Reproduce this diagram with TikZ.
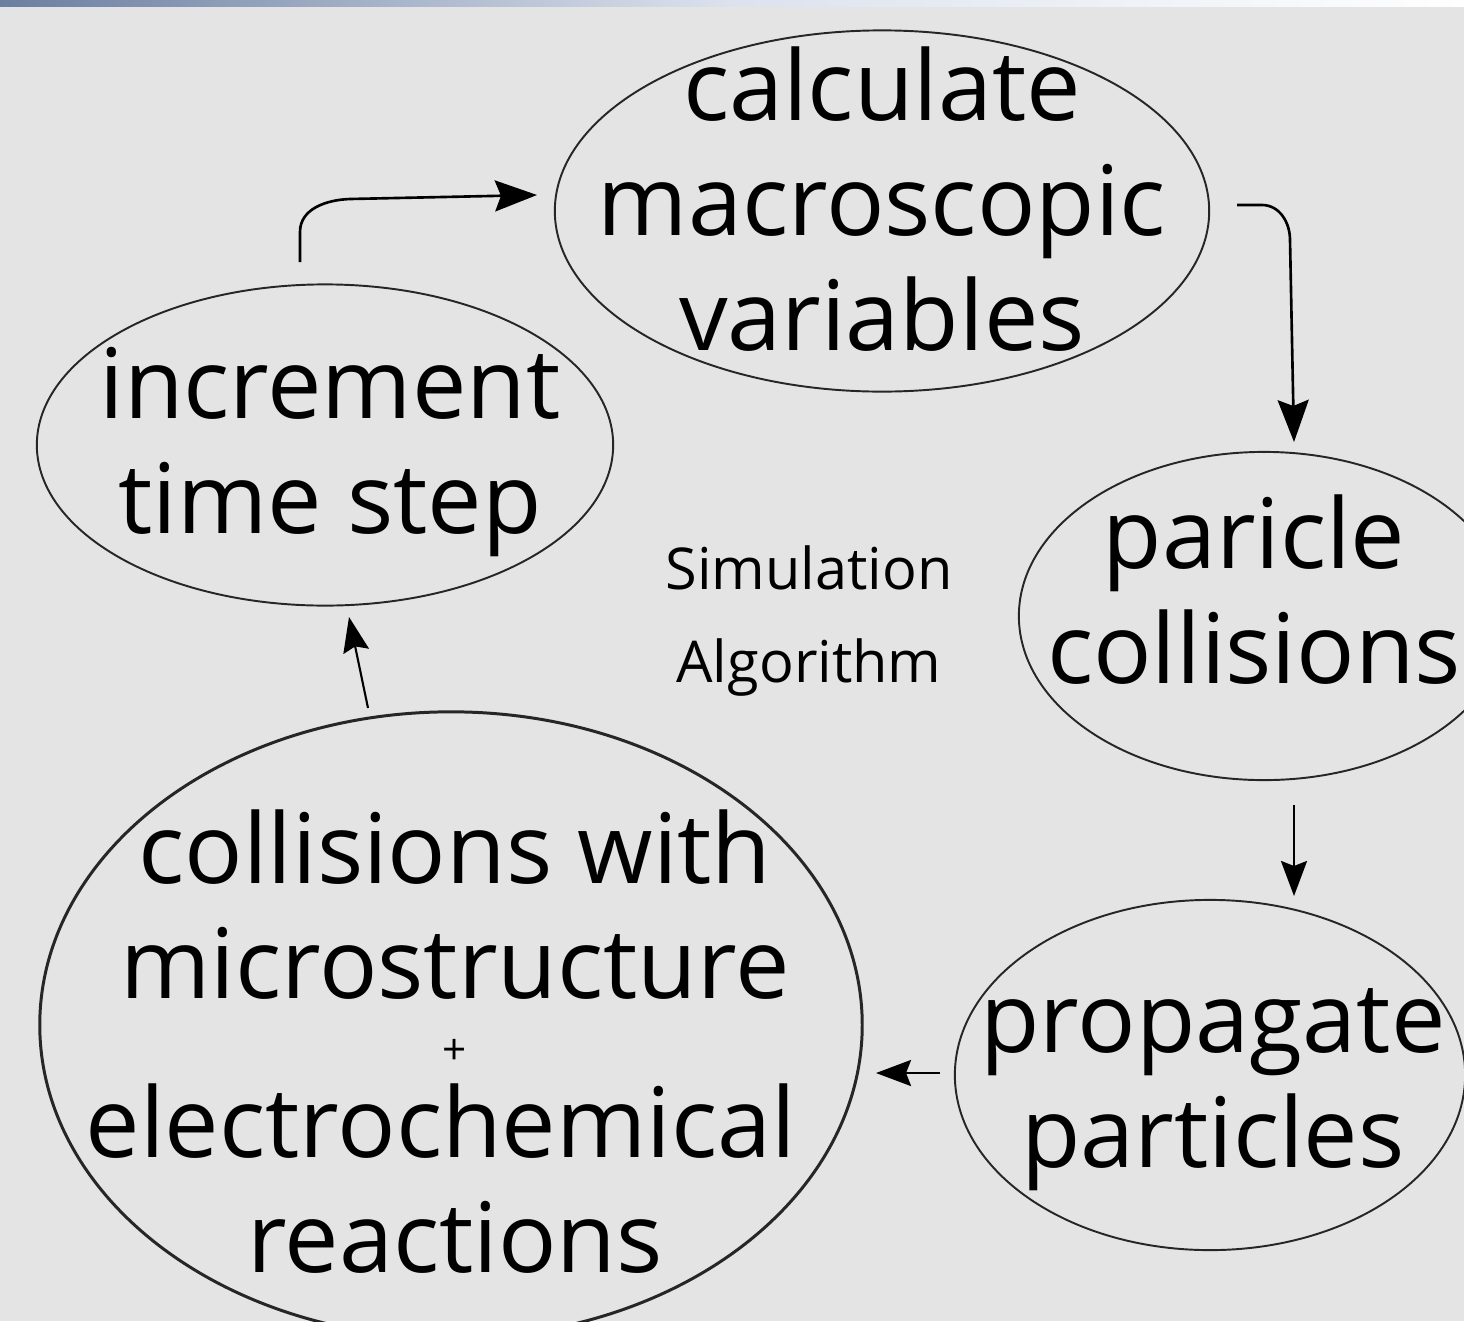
\documentclass[tikz,border=0pt]{standalone}
\usepackage{fontspec}
\setmainfont{Open Sans}
\usetikzlibrary{arrows.meta,shapes.geometric}
\definecolor{bg}{HTML}{E4E4E4}
\definecolor{stripA}{HTML}{6B7FA0}
\definecolor{stripB}{HTML}{DCE2EE}
\tikzset{
  bubble/.style={draw=black!85, line width=0.55pt, ellipse, inner sep=0pt},
  big/.style={font=\fontsize{27.6}{32.7}\selectfont, align=center, anchor=base, inner sep=0pt},
  small/.style={font=\fontsize{16.4}{26.2}\selectfont, align=center, anchor=base, inner sep=0pt},
  flow/.style={line width=0.75pt, -{Stealth[length=4.2mm,width=3.1mm,inset=0.6mm]}},
  flowsmall/.style={line width=0.7pt, -{Stealth[length=3.5mm,width=2.6mm,inset=0.5mm]}}
}
\begin{document}
\begin{tikzpicture}[x=0.01cm,y=-0.01cm]
\useasboundingbox (0,0) rectangle (1464,1321);
\fill[bg] (0,0) rectangle (1464,1321);
\shade[left color=stripA, right color=white, middle color=stripB] (0,0) rectangle (1464,6);

% ellipses
\node[bubble, minimum width=6.54cm, minimum height=3.61cm] (calc) at (882,211) {};
\node[bubble, minimum width=5.76cm, minimum height=3.21cm] (inc) at (325,445) {};
\node[bubble, minimum width=4.90cm, minimum height=3.28cm] (coll) at (1264,616) {};
\node[bubble, minimum width=5.10cm, minimum height=3.50cm] (prop) at (1210,1075) {};
\node[bubble, line width=0.85pt, minimum width=8.22cm, minimum height=6.26cm] (micro) at (451,1025) {};

% texts (anchored at the baseline of their last line)
\node[big] (tcalc) at (882,350) {calculate\\macroscopic\\variables};
\node[big] (tinc) at (330,533) {increment\\time step};
\node[big] (tcoll) at (1254,683) {paricle\\collisions};
\node[big] (tprop) at (1213,1167) {propagate\\particles};
\node[big] (tmicro) at (455,998) {collisions with\\microstructure};
\node[font=\fontsize{12}{14}\selectfont, inner sep=0pt] (plus) at (455,1052) {+};
\node[big] (telec) at (455,1272) {electrochemical\hspace*{0.28cm}\\reactions};
\node[small] (tsim) at (809,682) {Simulation\\Algorithm};

% connector end points
\coordinate (a1s) at (300,262);
\coordinate (a1e) at (537,195);
\coordinate (a2s) at (1237,205);
\coordinate (a2e) at (1294,442);
\coordinate (a3s) at (1294,805);
\coordinate (a3e) at (1294,896);
\coordinate (a4s) at (940,1073);
\coordinate (a4e) at (876,1073);
\coordinate (a5s) at (368,708);
\coordinate (a5e) at (349,617);

\draw[flow] (a1s) -- (300,232) to[out=90,in=182] (350,199) -- (a1e);
\draw[flow] (a2s) -- (1262,205) to[out=0,in=90] (1290,240) -- (a2e);
\draw[flowsmall] (a3s) -- (a3e);
\draw[flowsmall] (a4s) -- (a4e);
\draw[flowsmall, line width=0.6pt] (a5s) -- (a5e);
\end{tikzpicture}
\end{document}
